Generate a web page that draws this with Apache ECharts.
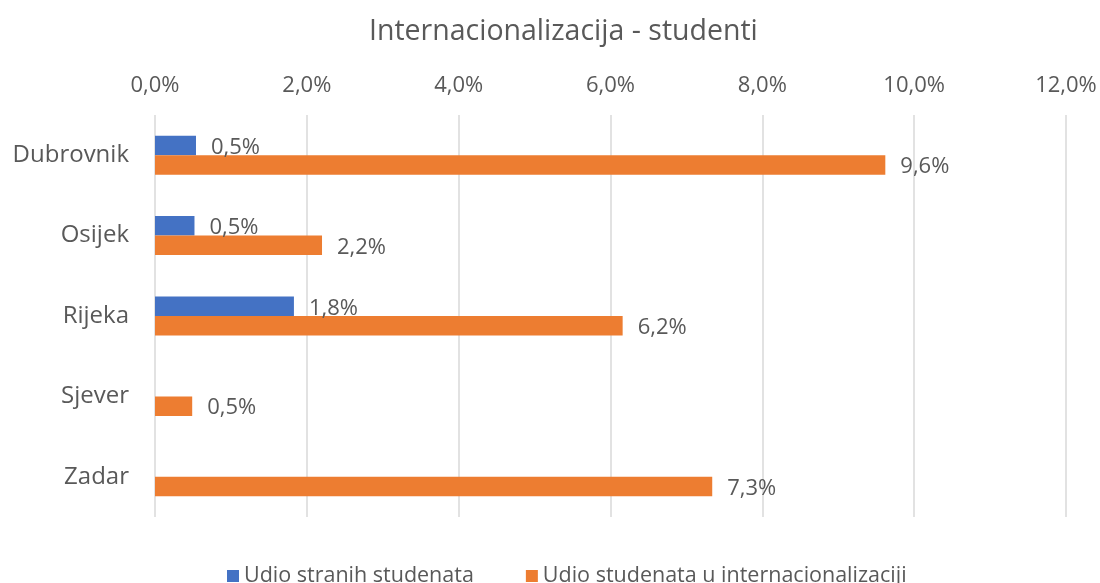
<!DOCTYPE html>
<html>
<head>
<meta charset="utf-8">
<title>Internacionalizacija - studenti</title>
<script src="https://cdn.jsdelivr.net/npm/echarts@6/dist/echarts.min.js"></script>
<style>
  html, body { margin: 0; padding: 0; background: #fff; }
  #chart { width: 1100px; height: 583px; }
</style>
</head>
<body>
<div id="chart"></div>
<script>
// Data (values in percent)
const categories = ['Dubrovnik', 'Osijek', 'Rijeka', 'Sjever', 'Zadar']
const stranihStudenata = [0.54, 0.52, 1.83, null, null]
const uInternacionalizaciji = [9.62, 2.2, 6.16, 0.49, 7.34]
const seriesNames = ['Udio stranih studenata', 'Udio studenata u internacionalizaciji']

const TEXT = '#595959'
const FONT = "'Open Sans', sans-serif"

// 1.5 -> "1,5%"
const pct = v => v.toFixed(1).replace('.', ',') + '%'

const chart = echarts.init(document.getElementById('chart'))

const labelStyle = {
    show: true,
    position: 'right',
    distance: 15,
    offset: [0, 2],
    color: TEXT,
    fontSize: 22,
    fontFamily: FONT,
    formatter: p => pct(p.value)
}

chart.setOption({
    backgroundColor: '#ffffff',
    animation: false,
    textStyle: { fontFamily: FONT },
    title: {
        text: 'Internacionalizacija - studenti',
        left: 364,
        top: 12,
        textStyle: { color: TEXT, fontSize: 28.5, fontWeight: 'normal', fontFamily: FONT }
    },
    legend: {
        data: seriesNames,
        left: 222,
        top: 560,
        icon: 'rect',
        itemWidth: 12,
        itemHeight: 12,
        itemGap: 52,
        textStyle: { color: TEXT, fontSize: 21.5, fontFamily: FONT }
    },
    grid: { left: 155, right: 34, top: 115, bottom: 66 },
    xAxis: {
        type: 'value',
        position: 'top',
        min: 0,
        max: 12,
        interval: 2,
        axisLine: { show: false },
        axisTick: { show: false },
        axisLabel: { color: TEXT, fontSize: 22, fontFamily: FONT, margin: 18, formatter: v => pct(v) },
        splitLine: { lineStyle: { color: '#d9d9d9', width: 1.5 } }
    },
    yAxis: {
        type: 'category',
        data: categories,
        inverse: true,
        axisLine: { show: false },
        axisTick: { show: false },
        axisLabel: { color: TEXT, fontSize: 24, fontFamily: FONT, margin: 26 }
    },
    series: [
        {
            name: seriesNames[0],
            type: 'bar',
            data: stranihStudenata,
            barWidth: 19.5,
            barGap: '0%',
            itemStyle: { color: '#4472C4' },
            label: labelStyle
        },
        {
            name: seriesNames[1],
            type: 'bar',
            data: uInternacionalizaciji,
            barWidth: 19.5,
            barGap: '0%',
            itemStyle: { color: '#ED7D31' },
            label: labelStyle
        }
    ]
})
</script>
</body>
</html>
